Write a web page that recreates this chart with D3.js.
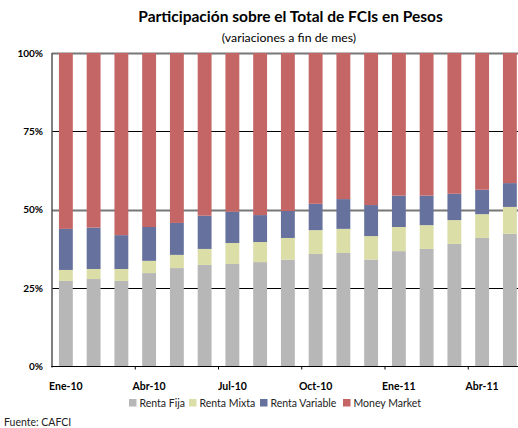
<!DOCTYPE html>
<html>
<head>
<meta charset="utf-8">
<script src="https://cdn.jsdelivr.net/npm/d3@7"></script>
<style>
  body { margin: 0; background: #fff; }
  svg { display: block; font-family: Lato, "Open Sans", sans-serif; }
</style>
</head>
<body>
<svg id="chart"></svg>
<script>
/** * * * * DATA * * * * */
const months = ['Ene-10', 'Feb-10', 'Mar-10', 'Abr-10', 'May-10', 'Jun-10', 'Jul-10', 'Ago-10', 'Sep-10',
  'Oct-10', 'Nov-10', 'Dic-10', 'Ene-11', 'Feb-11', 'Mar-11', 'Abr-11', 'May-11'];
const labeledMonths = ['Ene-10', 'Abr-10', 'Jul-10', 'Oct-10', 'Ene-11', 'Abr-11'];
const rentaFija     = [27.3, 27.9, 27.3, 29.8, 31.4, 32.4, 32.7, 33.3, 34.1, 35.9, 36.2, 34.1, 36.8, 37.5, 39.1, 41.0, 42.3];
const rentaMixta    = [3.5, 3.2, 3.8, 3.9, 4.2, 5.1, 6.7, 6.4, 6.9, 7.6, 7.7, 7.5, 7.7, 7.6, 7.6, 7.6, 8.6];
const rentaVariable = [13.1, 13.2, 10.8, 10.8, 10.2, 10.6, 10.0, 8.6, 8.6, 8.4, 9.5, 9.9, 10.0, 9.4, 8.4, 7.8, 7.6];
const seriesNames = ['Renta Fija', 'Renta Mixta', 'Renta Variable', 'Money Market'];
const yTicks = [0, 25, 50, 75, 100];

const width = 518;
const height = 428;
const margin = {top: 53, bottom: 61.5, left: 52, right: -5.75};

const colors = {
  'Renta Fija': '#b7b7b7',
  'Renta Mixta': '#dcdea8',
  'Renta Variable': '#67719e',
  'Money Market': '#c46566'
};

// build rows for the stack
let rows = months.map(function(m, i) {
  return {
    month: m,
    'Renta Fija': rentaFija[i],
    'Renta Mixta': rentaMixta[i],
    'Renta Variable': rentaVariable[i],
    'Money Market': 100 - rentaFija[i] - rentaMixta[i] - rentaVariable[i]
  };
});

let svg = d3.select('#chart')
  .attr('width', width)
  .attr('height', height);

let xScale = d3.scaleBand()
  .domain(months)
  .range([margin.left, width - margin.right])
  .paddingInner(0.5)
  .paddingOuter(0.25);

let yScale = d3.scaleLinear()
  .domain([0, 100])
  .range([height - margin.bottom, margin.top]);

// titles
svg.append('text')
  .attr('x', 290.5)
  .attr('y', 22)
  .attr('text-anchor', 'middle')
  .style('font-size', '15.5px')
  .style('font-weight', 'bold')
  .text('Participación sobre el Total de FCIs en Pesos');
svg.append('text')
  .attr('x', 289)
  .attr('y', 42)
  .attr('text-anchor', 'middle')
  .style('font-size', '12.3px')
  .text('(variaciones a fin de mes)');

// gridlines
svg.append('g')
  .selectAll('line')
  .data(yTicks.filter(function(d) { return d > 0; }))
  .enter()
  .append('line')
  .attr('x1', margin.left)
  .attr('x2', width)
  .attr('y1', function(d) { return Math.round(yScale(d)) + 0.5; })
  .attr('y2', function(d) { return Math.round(yScale(d)) + 0.5; })
  .attr('stroke', function(d) { return d % 50 === 0 ? '#777' : '#000'; })
  .attr('stroke-width', function(d) { return d % 50 === 0 ? 2 : 1; });

// bars
let stack = d3.stack().keys(seriesNames);
svg.append('g')
  .selectAll('g')
  .data(stack(rows))
  .enter()
  .append('g')
  .attr('fill', function(d) { return colors[d.key]; })
  .selectAll('rect')
  .data(function(d) { return d; })
  .enter()
  .append('rect')
  .attr('x', function(d) { return xScale(d.data.month); })
  .attr('y', function(d) { return yScale(d[1]); })
  .attr('width', xScale.bandwidth())
  .attr('height', function(d) { return yScale(d[0]) - yScale(d[1]); });

// y axis
let yAxis = svg.append('g')
  .attr('transform', `translate(${margin.left},0)`)
  .call(d3.axisLeft(yScale).tickValues(yTicks).tickSize(0).tickPadding(9)
    .tickFormat(function(d) { return d + '%'; }));
yAxis.select('.domain').remove();
yAxis.selectAll('text')
  .style('font-family', 'Lato, sans-serif')
  .style('font-size', '10px')
  .style('font-weight', 'bold')
  .attr('fill', '#000');
svg.append('line')
  .attr('x1', margin.left)
  .attr('x2', margin.left)
  .attr('y1', yScale(100))
  .attr('y2', yScale(0) + 1)
  .attr('stroke', '#555')
  .attr('stroke-width', 1.5);

// x axis
let xAxis = svg.append('g')
  .attr('transform', `translate(0,${yScale(0)})`)
  .call(d3.axisBottom(xScale).tickValues(labeledMonths).tickSize(0).tickPadding(16));
xAxis.select('.domain').remove();
xAxis.selectAll('text')
  .style('font-family', 'Lato, sans-serif')
  .style('font-size', '10.5px')
  .style('font-weight', 'bold')
  .attr('fill', '#000');
svg.append('line')
  .attr('x1', margin.left - 0.75)
  .attr('x2', width)
  .attr('y1', yScale(0))
  .attr('y2', yScale(0))
  .attr('stroke', '#000')
  .attr('stroke-width', 1.2);

// tick marks at category boundaries every 3 months
let boundaryTicks = months.filter(function(m, i) { return i % 3 === 0 && i > 0; });
svg.append('g')
  .selectAll('line')
  .data(boundaryTicks)
  .enter()
  .append('line')
  .attr('x1', function(d) { return xScale(d) - xScale.step() * 0.25; })
  .attr('x2', function(d) { return xScale(d) - xScale.step() * 0.25; })
  .attr('y1', yScale(0))
  .attr('y2', yScale(0) + 3)
  .attr('stroke', '#000');

// legend
let legendX = [129, 189, 260, 343];
let legend = svg.append('g')
  .selectAll('g')
  .data(seriesNames)
  .enter()
  .append('g')
  .attr('transform', function(d, i) { return `translate(${legendX[i]},399)`; });
legend.append('rect')
  .attr('width', 7.5)
  .attr('height', 7.5)
  .attr('fill', function(d) { return colors[d]; });
legend.append('text')
  .attr('x', 10.5)
  .attr('y', 7.5)
  .style('font-size', '10.5px')
  .attr('fill', '#222')
  .text(function(d) { return d; });

// source
svg.append('text')
  .attr('x', 4)
  .attr('y', 426)
  .style('font-size', '10.5px')
  .attr('fill', '#222')
  .text('Fuente: CAFCI');
</script>
</body>
</html>
